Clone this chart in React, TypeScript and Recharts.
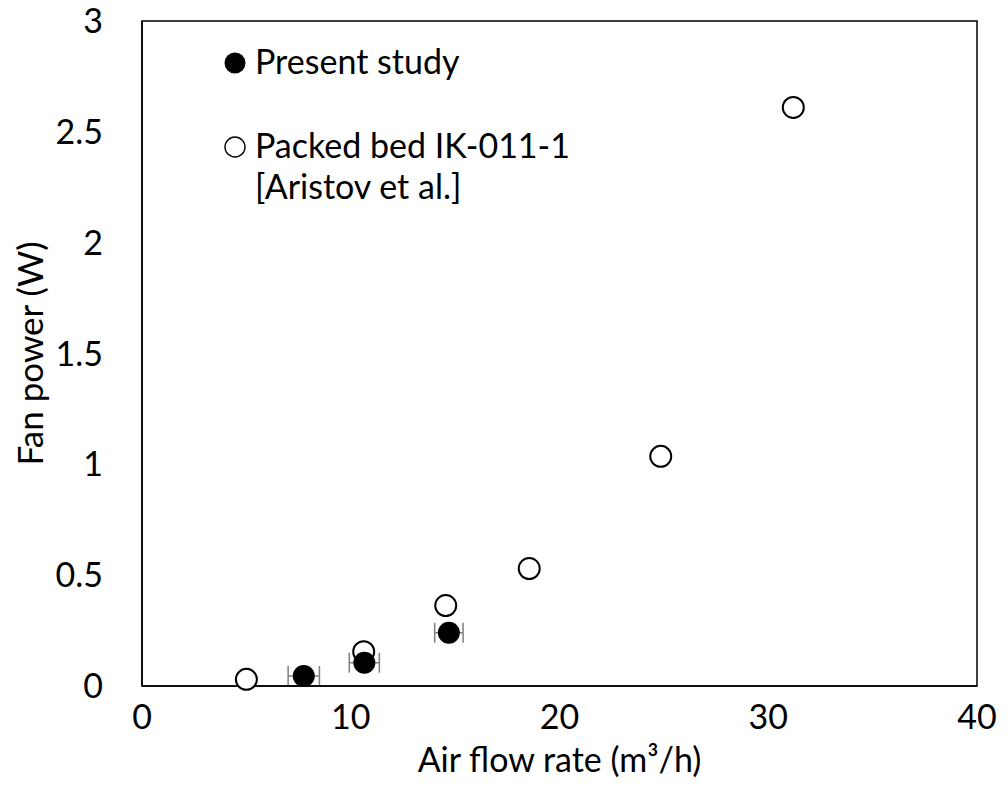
import { ScatterChart, Scatter, XAxis, YAxis, ErrorBar, ReferenceArea } from 'recharts'

// lecture du graphe (m3/h, W)
const presentFlow = [7.75, 10.65, 14.7]
const presentPower = [0.045, 0.105, 0.24]
const presentErr = [0.75, 0.72, 0.68]

const packedFlow = [5.0, 10.62, 14.55, 18.55, 24.85, 31.2]
const packedPower = [0.03, 0.155, 0.363, 0.53, 1.036, 2.61]

const xTicks = [0, 10, 20, 30, 40]
const yTicks = [0, 0.5, 1, 1.5, 2, 2.5, 3]

const FONT = 'Lato, "Open Sans", sans-serif'

const present = presentFlow.map((x, i) => ({ x, y: presentPower[i], err: presentErr[i] }))
const packed = packedFlow.map((x, i) => ({ x, y: packedPower[i] }))

const FilledDot = (p: any) => <circle cx={p.cx} cy={p.cy} r={11} fill="#000" />
const OpenDot = (p: any) => (
  <circle cx={p.cx} cy={p.cy} r={10.5} fill="#fff" stroke="#000" strokeWidth={2} />
)

// legende a l'interieur du cadre, comme dans Excel
function LegendBox() {
  const line = { position: 'absolute' as const, fontFamily: FONT, fontSize: 34, lineHeight: '40px', color: '#000', whiteSpace: 'nowrap' as const }
  return (
    <>
      <svg width={1008} height={786} style={{ position: 'absolute', left: 0, top: 0, pointerEvents: 'none' }}>
        <circle cx={235} cy={63} r={10.5} fill="#000" />
        <circle cx={235} cy={147} r={10} fill="#fff" stroke="#000" strokeWidth={1.4} />
      </svg>
      <div style={{ ...line, left: 255, top: 41 }}>Present study</div>
      <div style={{ ...line, left: 255, top: 125 }}>Packed bed IK-011-1</div>
      <div style={{ ...line, left: 255, top: 166 }}>[Aristov et al.]</div>
    </>
  )
}

export default function App() {
  return (
    <div style={{ margin: -8, width: 1008, height: 786, background: '#fff', position: 'relative' }}>
      <ScatterChart width={1008} height={786} margin={{ top: 21, right: 31, left: 52, bottom: 0 }}>
        <XAxis
          type="number"
          dataKey="x"
          domain={[0, 40]}
          ticks={xTicks}
          height={100}
          tickSize={0}
          tickMargin={19}
          axisLine={{ stroke: '#000', strokeWidth: 1.5 }}
          tick={{ fontFamily: FONT, fontSize: 34, fill: '#000' }}
          label={(props: any) => {
            const vb = props.viewBox
            return (
              <text x={vb.x + vb.width / 2} y={772} textAnchor="middle" fontFamily={FONT} fontSize={34} fill="#000">
                Air flow rate (m³/h)
              </text>
            )
          }}
        />
        <YAxis
          type="number"
          dataKey="y"
          domain={[0, 3]}
          ticks={yTicks}
          width={90}
          tickSize={0}
          tickMargin={39}
          axisLine={{ stroke: '#000', strokeWidth: 1.5 }}
          tick={{ fontFamily: FONT, fontSize: 34, fill: '#000' }}
          label={(props: any) => {
            const vb = props.viewBox
            const cy = vb.y + vb.height / 2
            return (
              <text
                x={43}
                y={cy}
                transform={`rotate(-90, 43, ${cy})`}
                textAnchor="middle"
                fontFamily={FONT}
                fontSize={35}
                fill="#000"
              >
                Fan power (W)
              </text>
            )
          }}
        />
        {/* cadre du graphe */}
        <ReferenceArea x1={0} x2={40} y1={0} y2={3} fill="none" stroke="#000" strokeWidth={1.5} ifOverflow="visible" />
        <Scatter name="Packed bed IK-011-1 [Aristov et al.]" data={packed} shape={OpenDot} isAnimationActive={false} />
        <Scatter name="Present study" data={present} shape={FilledDot} isAnimationActive={false}>
          <ErrorBar dataKey="err" direction="x" width={10} stroke="#7f7f7f" strokeWidth={1.5} />
        </Scatter>
      </ScatterChart>
      <LegendBox />
    </div>
  )
}
